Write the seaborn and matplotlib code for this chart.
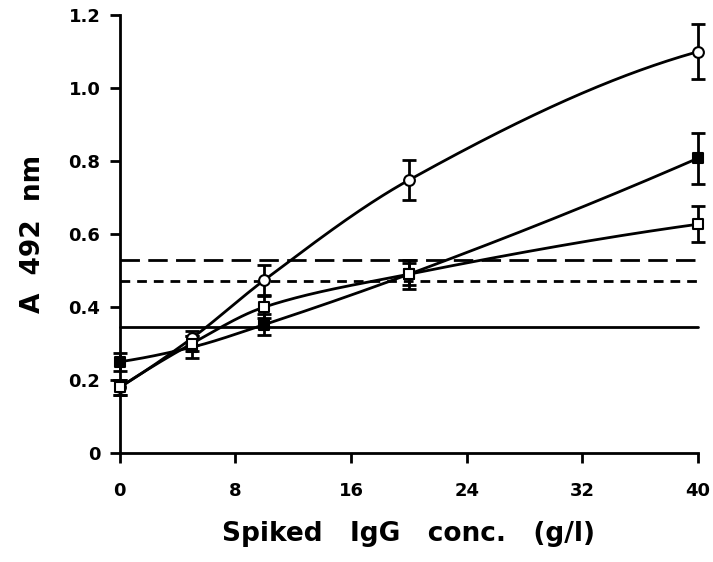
import numpy as np
import pandas as pd
import seaborn as sns
import matplotlib
matplotlib.use("Agg")
import matplotlib.pyplot as plt

# 数据
conc = [0, 5, 10, 20, 40]
open_circle = [0.18, 0.315, 0.474, 0.748, 1.10]
open_circle_err = [0.02, 0.02, 0.04, 0.055, 0.075]
filled_square = [0.25, 0.29, 0.352, 0.49, 0.808]
filled_square_err = [0.025, 0.03, 0.03, 0.04, 0.07]
open_square = [0.18, 0.30, 0.40, 0.49, 0.627]
open_square_err = [0.02, 0.02, 0.03, 0.03, 0.05]
cutoff_long = 0.529
cutoff_short = 0.471
cutoff_solid = 0.345
xticks = [0, 8, 16, 24, 32, 40]
yticks = [0, 0.2, 0.4, 0.6, 0.8, 1.0, 1.2]
yticklabels = ["0", "0.2", "0.4", "0.6", "0.8", "1.0", "1.2"]


def pchip(x, y, xs):
    # 单调三次插值，画平滑曲线
    x = np.asarray(x, float); y = np.asarray(y, float)
    h = np.diff(x); d = np.diff(y) / h
    m = np.zeros_like(y)
    for k in range(1, len(x) - 1):
        if d[k - 1] * d[k] > 0:
            w1 = 2 * h[k] + h[k - 1]; w2 = h[k] + 2 * h[k - 1]
            m[k] = (w1 + w2) / (w1 / d[k - 1] + w2 / d[k])
    m[0] = ((2 * h[0] + h[1]) * d[0] - h[0] * d[1]) / (h[0] + h[1])
    if np.sign(m[0]) != np.sign(d[0]):
        m[0] = 0
    m[-1] = ((2 * h[-1] + h[-2]) * d[-1] - h[-1] * d[-2]) / (h[-1] + h[-2])
    if np.sign(m[-1]) != np.sign(d[-1]):
        m[-1] = 0
    idx = np.clip(np.searchsorted(x, xs) - 1, 0, len(x) - 2)
    t = (xs - x[idx]) / h[idx]
    h00 = 2 * t**3 - 3 * t**2 + 1; h10 = t**3 - 2 * t**2 + t
    h01 = -2 * t**3 + 3 * t**2; h11 = t**3 - t**2
    return h00 * y[idx] + h10 * h[idx] * m[idx] + h01 * y[idx + 1] + h11 * h[idx] * m[idx + 1]


sns.set_style("ticks")
plt.rcParams['font.family'] = ['DejaVu Sans']
plt.rcParams['font.weight'] = 'bold'
plt.rcParams['text.color'] = 'black'
plt.rcParams['xtick.color'] = 'black'
plt.rcParams['ytick.color'] = 'black'
plt.rcParams['axes.labelcolor'] = 'black'

fig = plt.figure(figsize=(7.13, 5.62), dpi=100)
ax = fig.add_axes([0.168, 0.194, 0.811, 0.779])

xs = np.linspace(0, 40, 300)
curves = []
for name, vals in [("circle", open_circle), ("fsq", filled_square), ("osq", open_square)]:
    curves.append(pd.DataFrame({"x": xs, "y": pchip(conc, vals, xs), "s": name}))
curves = pd.concat(curves)
sns.lineplot(data=curves, x="x", y="y", units="s", estimator=None, color="black",
             lw=2, ax=ax, legend=False)

# 参考线
ax.axhline(cutoff_long, color="black", lw=2, dashes=(7, 3))
ax.axhline(cutoff_short, color="black", lw=2, dashes=(3.5, 2.5))
ax.axhline(cutoff_solid, color="black", lw=2)

for vals, err, mk, fc in [(open_circle, open_circle_err, "o", "white"),
                          (filled_square, filled_square_err, "s", "black"),
                          (open_square, open_square_err, "s", "white")]:
    ax.errorbar(conc, vals, yerr=err, fmt="none", ecolor="black", elinewidth=2,
                capsize=5, capthick=2, zorder=4)
    sns.scatterplot(x=conc, y=vals, marker=mk, s=60, color=fc, edgecolor="black",
                    linewidth=1.5, ax=ax, zorder=5)

ax.set_xlim(0, 40)
ax.set_ylim(0, 1.2)
ax.set_xticks(xticks)
ax.set_yticks(yticks)
ax.set_yticklabels(yticklabels)
ax.tick_params(labelsize=13, width=2, length=7, direction="out")
ax.tick_params(axis="x", pad=14)
ax.tick_params(axis="y", pad=7)
for lab in ax.get_xticklabels() + ax.get_yticklabels():
    lab.set_fontweight("bold")
sns.despine(ax=ax)
for sp in ["left", "bottom"]:
    ax.spines[sp].set_linewidth(2)
    ax.spines[sp].set_color("black")
ax.set_xlabel("Spiked   IgG   conc.   (g/l)", fontsize=19, fontweight="bold", labelpad=15)
ax.set_ylabel("A  492  nm", fontsize=19, fontweight="bold", labelpad=16)
for c in ax.get_children():
    try:
        c.set_clip_on(False)
    except Exception:
        pass

fig.savefig("out.png", dpi=100)
